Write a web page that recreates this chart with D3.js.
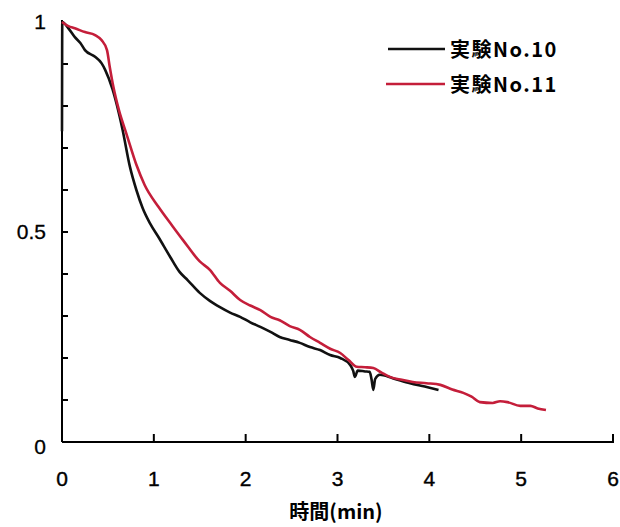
<!DOCTYPE html>
<html><head><meta charset="utf-8">
<script src="https://cdn.jsdelivr.net/npm/d3@7"></script>
<style>
html,body{margin:0;padding:0;background:#fff;}
svg text{font-family:"Liberation Sans",Arial,sans-serif;}
</style></head>
<body><svg id="c" width="620" height="527"></svg>
<script>
const xTicks = [0,1,2,3,4,5,6];
const yMinorTicks = [0,0.1,0.2,0.3,0.4,0.5,0.6,0.7,0.8,0.9,1];
const yLabels = [0,0.5,1];
const seriesNames = ["実験No.10","実験No.11"];
const seriesColors = ["#111111","#c41e3a"];

const t10 = [0,0.003,0.07,0.14,0.2,0.25,0.36,0.43,0.47,0.55,0.6,0.66,0.74,0.81,0.88,0.96,1.05,1.18,1.28,1.37,1.5,1.61,1.72,1.83,1.94,2.05,2.16,2.27,2.37,2.48,2.59,2.7,2.81,2.92,3.03,3.14,3.17,3.19,3.22,3.3,3.35,3.37,3.39,3.41,3.46,3.6,3.79,3.95,4.1];
const v10 = [0.74,1.0,0.985,0.964,0.95,0.933,0.917,0.902,0.886,0.84,0.8,0.743,0.655,0.6,0.556,0.52,0.488,0.44,0.405,0.385,0.355,0.336,0.321,0.308,0.298,0.285,0.274,0.262,0.25,0.243,0.236,0.226,0.219,0.207,0.2,0.183,0.17,0.155,0.17,0.168,0.167,0.15,0.124,0.15,0.16,0.152,0.14,0.132,0.124];

const t11 = [0,0.07,0.14,0.25,0.36,0.43,0.49,0.52,0.56,0.62,0.7,0.81,0.9,1.05,1.2,1.32,1.5,1.61,1.72,1.83,1.94,2.05,2.16,2.27,2.37,2.48,2.59,2.7,2.81,2.92,3.03,3.12,3.21,3.3,3.39,3.48,3.57,3.7,3.82,3.97,4.12,4.25,4.37,4.46,4.55,4.69,4.77,4.85,4.99,5.1,5.18,5.27];
const v11 = [1.0,0.99,0.985,0.976,0.969,0.957,0.933,0.893,0.845,0.79,0.735,0.66,0.612,0.56,0.515,0.48,0.43,0.41,0.379,0.36,0.338,0.325,0.314,0.298,0.29,0.276,0.267,0.25,0.236,0.222,0.212,0.195,0.179,0.178,0.176,0.165,0.155,0.148,0.143,0.14,0.136,0.125,0.117,0.108,0.095,0.093,0.097,0.095,0.086,0.086,0.08,0.076];

const svg = d3.select("#c");
const x = d3.scaleLinear().domain([0,6]).range([62,613]);
const y = d3.scaleLinear().domain([0,1]).range([442,22]);

svg.append("line").attr("x1",x(0)).attr("x2",x(0)).attr("y1",y(1)-2).attr("y2",y(0))
  .attr("stroke","#000").attr("stroke-width",2);
svg.append("line").attr("x1",x(0)).attr("x2",x(6)+1).attr("y1",y(0)).attr("y2",y(0))
  .attr("stroke","#000").attr("stroke-width",2);

svg.selectAll(".yt").data(yMinorTicks.filter(d=>d>0&&d<1)).enter().append("line")
  .attr("x1",x(0)).attr("x2",x(0)+6).attr("y1",d=>y(d)).attr("y2",d=>y(d))
  .attr("stroke","#000").attr("stroke-width",2);
svg.selectAll(".xt").data(xTicks.filter(d=>d>0)).enter().append("line")
  .attr("x1",d=>x(d)).attr("x2",d=>x(d)).attr("y1",y(0)).attr("y2",y(0)-8)
  .attr("stroke","#000").attr("stroke-width",2);

svg.selectAll(".xl").data(xTicks).enter().append("text")
  .attr("x",d=>x(d)).attr("y",486).attr("text-anchor","middle")
  .attr("font-size",21).attr("fill","#000").attr("stroke","#000").attr("stroke-width",0.4).text(d=>d);
svg.selectAll(".yl").data(yLabels).enter().append("text")
  .attr("x",46).attr("y",d=>y(d)+ (d===0?12:7)).attr("text-anchor","end")
  .attr("font-size",21).attr("fill","#000").attr("stroke","#000").attr("stroke-width",0.3).text(d=>d===0.5?"0.5":d);

svg.append("text").attr("x",336).attr("y",519).attr("text-anchor","middle")
  .attr("font-size",20).attr("font-weight","bold")
  .style("font-family","'Noto Sans CJK JP',sans-serif").text("時間(min)");

const line = d3.line().x(d=>x(d[0])).y(d=>y(d[1])).curve(d3.curveMonotoneX);
const data10 = t10.map((t,i)=>[t,v10[i]]);
const data11 = t11.map((t,i)=>[t,v11[i]]);
svg.append("path").attr("d",line(data10)).attr("fill","none")
  .attr("stroke",seriesColors[0]).attr("stroke-width",2.6).attr("stroke-linejoin","round");
svg.append("path").attr("d",line(data11)).attr("fill","none")
  .attr("stroke",seriesColors[1]).attr("stroke-width",2.6).attr("stroke-linejoin","round");

const leg = [[388,49],[386,84]];
seriesNames.forEach((n,i)=>{
  svg.append("line").attr("x1",leg[i][0]).attr("x2",445).attr("y1",leg[i][1]).attr("y2",leg[i][1])
    .attr("stroke",seriesColors[i]).attr("stroke-width",2.6);
  svg.append("text").attr("x",450).attr("y",leg[i][1]+8).attr("font-size",20)
    .attr("font-weight","bold").attr("fill","#000").attr("letter-spacing",1.5)
    .style("font-family","'Noto Sans CJK JP',sans-serif").text(n);
});
</script></body></html>
